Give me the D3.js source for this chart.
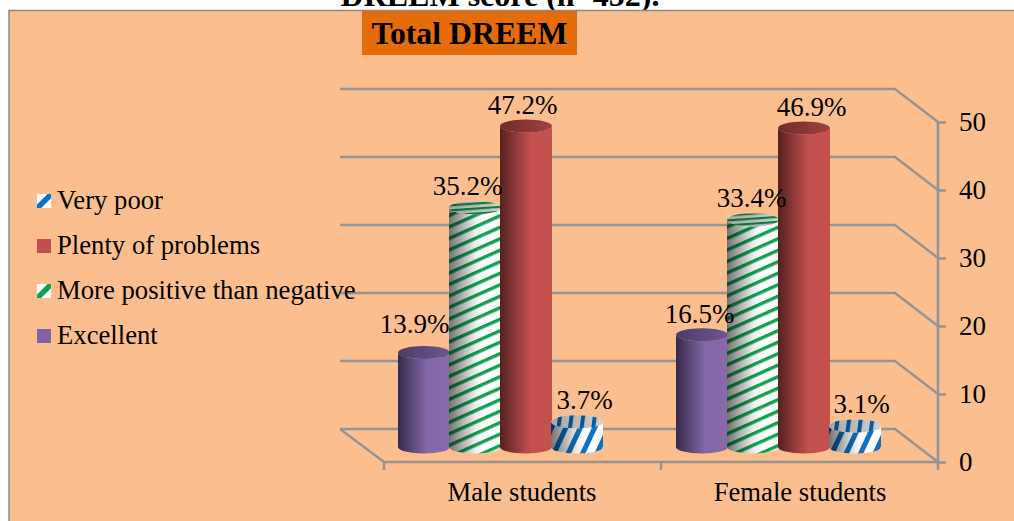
<!DOCTYPE html>
<html>
<head>
<meta charset="utf-8">
<script src="https://cdn.jsdelivr.net/npm/d3@7"></script>
<style>
html, body { margin: 0; padding: 0; background: #fff; overflow: hidden; }
text { font-family: "Liberation Serif", serif; fill: #000; }
</style>
</head>
<body>
<div id="chart"></div>
<script>
const svgWidth = 1014
const svgHeight = 521

const categories = ["Male students", "Female students"]
const seriesNames = ["Excellent", "More positive than negative", "Plenty of problems", "Very poor"]
const excellent = [13.9, 16.5]
const morePositive = [35.2, 33.4]
const plentyOfProblems = [47.2, 46.9]
const veryPoor = [3.7, 3.1]
const seriesValues = [excellent, morePositive, plentyOfProblems, veryPoor]
const yTicks = [0, 10, 20, 30, 40, 50]

// the 3d box: the back wall sits up and left of the front plane
const depthX = -43
const depthY = -33
const gridColor = "#949494"
const baseY = 447
const ry = 6.5
const fontSize = 27
const textSize = 26.7

// hand nudges for the data labels [dx, dy], same order as the series
const labelNudge = [
	[[-9, -19], [-2, -12]],
	[[-7, -13], [-1, -13]],
	[[-3, -12], [8, -12]],
	[[8, -13], [7, -13]]
]

const svg = d3.select("#chart").append("svg")
	.attr("width", svgWidth)
	.attr("height", svgHeight)
	.style("display", "block")

const defs = svg.append("defs")

function gradient(id, stops) {
	const g = defs.append("linearGradient").attr("id", id)
	for (const s of stops) {
		g.append("stop").attr("offset", s[0]).attr("stop-color", s[1]).attr("stop-opacity", s[2] === undefined ? 1 : s[2])
	}
}
gradient("bodyPurple", [[0, "#352a4c"], [0.55, "#8367a6"], [1, "#8869aa"]])
gradient("topPurple", [[0, "#4c3d68"], [1, "#6c5590"]])
gradient("bodyRed", [[0, "#552120"], [0.6, "#c4514e"], [1, "#c4514e"]])
gradient("topRed", [[0, "#6e2b29"], [1, "#a2423f"]])
gradient("shade", [[0, "#000", 0.55], [0.5, "#000", 0.08], [0.75, "#fff", 0], [1, "#000", 0.03]])
gradient("shadeTop", [[0, "#000", 0.35], [1, "#000", 0.18]])

function stripes(id, color, w, h, band, angle) {
	const p = defs.append("pattern").attr("id", id)
		.attr("patternUnits", "userSpaceOnUse")
		.attr("width", w).attr("height", h)
		.attr("patternTransform", `rotate(${angle})`)
	p.append("rect").attr("width", w).attr("height", h).attr("fill", "#fff")
	p.append("rect").attr("width", w).attr("height", band).attr("fill", color)
}
stripes("bodyGreen", "#0fa14f", 20, 10.5, 3.4, -24)
stripes("capGreen", "#0fa14f", 20, 5, 2.2, -4)
stripes("bodyBlue", "#0b72c4", 20, 13, 5, -65)
stripes("capBlue", "#0b72c4", 20, 11.5, 4, -82)

function swatch(id, color) {
	const p = defs.append("pattern").attr("id", id)
		.attr("width", 1).attr("height", 1)
		.attr("patternContentUnits", "objectBoundingBox")
	p.append("rect").attr("width", 1).attr("height", 1).attr("fill", "#fff")
	p.append("path").attr("d", "M0,0.75 L0.75,0 L1,0 L1,0.3 L0.3,1 L0,1 Z").attr("fill", color)
}
swatch("swatchBlue", "#0b72c4")
swatch("swatchGreen", "#0fa14f")

const seriesStyle = {
	"Excellent": { body: "url(#bodyPurple)", cap: "url(#topPurple)", key: "#8064a2" },
	"More positive than negative": { body: "url(#bodyGreen)", cap: "url(#capGreen)", key: "url(#swatchGreen)", shaded: true },
	"Plenty of problems": { body: "url(#bodyRed)", cap: "url(#topRed)", key: "#c0504d" },
	"Very poor": { body: "url(#bodyBlue)", cap: "url(#capBlue)", key: "url(#swatchBlue)", shaded: true }
}

// title cut off by the panel, it sits behind it
svg.append("text")
	.attr("x", 500).attr("y", 6)
	.attr("text-anchor", "middle")
	.attr("font-size", 32).attr("font-weight", "bold")
	.text("DREEM score (n=452).")

svg.append("rect")
	.attr("x", 9).attr("y", 10.5)
	.attr("width", svgWidth).attr("height", svgHeight)
	.attr("fill", "#fbbf8f")
	.attr("stroke", "#8a8a8a").attr("stroke-width", 1.5)

const y = d3.scaleLinear().domain([0, 50]).range([462, 122])
const x0 = d3.scaleBand().domain(categories).range([361, 917])
const x1 = d3.scaleBand().domain(seriesNames).range([37, 241])

// walls and floor
const grid = svg.append("g").attr("fill", "none").attr("stroke", gridColor).attr("stroke-width", 2.5)
grid.selectAll("path.back")
	.data(yTicks)
	.enter().append("path")
	.attr("class", "back")
	.attr("d", d => `M340,${y(d) + depthY} H${938 + depthX} L938,${y(d)}`)
grid.append("path").attr("d", `M340,${y(0) + depthY} L384,${y(0)} H938`)
grid.selectAll("line.tick")
	.data([384, 661])
	.enter().append("line")
	.attr("class", "tick")
	.attr("x1", d => d).attr("x2", d => d)
	.attr("y1", y(0)).attr("y2", y(0) + 8)

const axis = svg.append("g")
	.attr("transform", "translate(938,0)")
	.call(d3.axisRight(y).tickValues(yTicks).tickSize(8).tickPadding(13).tickSizeOuter(0))
axis.select(".domain").attr("stroke", gridColor).attr("stroke-width", 2.5).attr("d", `M0,${y(50)} V${y(0) + 8}`)
axis.selectAll(".tick line").attr("stroke", gridColor).attr("stroke-width", 2.5)
axis.selectAll(".tick text").attr("font-family", '"Liberation Serif", serif').attr("font-size", fontSize).attr("fill", "#000")

// cylinders
function cylinderBody(x, w, top) {
	const r = w / 2
	return `M${x},${top} A${r},${ry} 0 0 0 ${x + w},${top} L${x + w},${baseY} A${r},${ry} 0 0 1 ${x},${baseY} Z`
}

const groups = svg.selectAll("g.cat")
	.data(categories)
	.enter().append("g")
	.attr("class", "cat")
	.attr("transform", d => `translate(${x0(d)},0)`)

groups.each(function(cat, ci) {
	const g = d3.select(this)
	seriesNames.forEach(function(name, si) {
		const style = seriesStyle[name]
		const v = seriesValues[si][ci]
		const bx = x1(name)
		const w = x1.bandwidth() + 1
		const top = baseY - (y(0) - y(v))
		const bar = g.append("g")
		bar.append("path").attr("d", cylinderBody(bx, w, top)).attr("fill", style.body)
		if (style.shaded) {
			bar.append("path").attr("d", cylinderBody(bx, w, top)).attr("fill", "url(#shade)")
		}
		bar.append("ellipse")
			.attr("cx", bx + w / 2).attr("cy", top)
			.attr("rx", w / 2).attr("ry", ry)
			.attr("fill", style.cap)
		if (style.shaded) {
			bar.append("ellipse")
				.attr("cx", bx + w / 2).attr("cy", top)
				.attr("rx", w / 2).attr("ry", ry)
				.attr("fill", "url(#shadeTop)")
		}
	})
})

// labels go on top of all the bars
groups.each(function(cat, ci) {
	const g = d3.select(this)
	seriesNames.forEach(function(name, si) {
		const v = seriesValues[si][ci]
		const nudge = labelNudge[si][ci]
		g.append("text")
			.attr("x", x1(name) + x1.bandwidth() / 2 + nudge[0])
			.attr("y", baseY - (y(0) - y(v)) + nudge[1])
			.attr("text-anchor", "middle")
			.attr("font-size", fontSize)
			.text(v.toFixed(1) + "%")
	})
})

groups.append("text")
	.attr("x", x0.bandwidth() / 2 + 22)
	.attr("y", 501)
	.attr("text-anchor", "middle")
	.attr("font-size", textSize)
	.text(d => d)

// legend runs in reverse series order
const legendNames = seriesNames.slice().reverse()
const legendY = d3.scalePoint().domain(legendNames).range([201, 336])
const legend = svg.selectAll("g.key")
	.data(legendNames)
	.enter().append("g")
	.attr("class", "key")
	.attr("transform", d => `translate(37,${legendY(d)})`)
legend.append("rect")
	.attr("y", -7).attr("width", 14).attr("height", 14)
	.attr("fill", d => seriesStyle[d].key)
legend.append("text")
	.attr("x", 20).attr("y", 8)
	.attr("font-size", textSize)
	.text(d => d)

// orange title box
svg.append("rect")
	.attr("x", 362).attr("y", 11)
	.attr("width", 215).attr("height", 44)
	.attr("fill", "#e46c0a")
svg.append("text")
	.attr("x", 469.5).attr("y", 44)
	.attr("text-anchor", "middle")
	.attr("font-size", 31.8).attr("font-weight", "bold")
	.text("Total DREEM")
</script>
</body>
</html>
